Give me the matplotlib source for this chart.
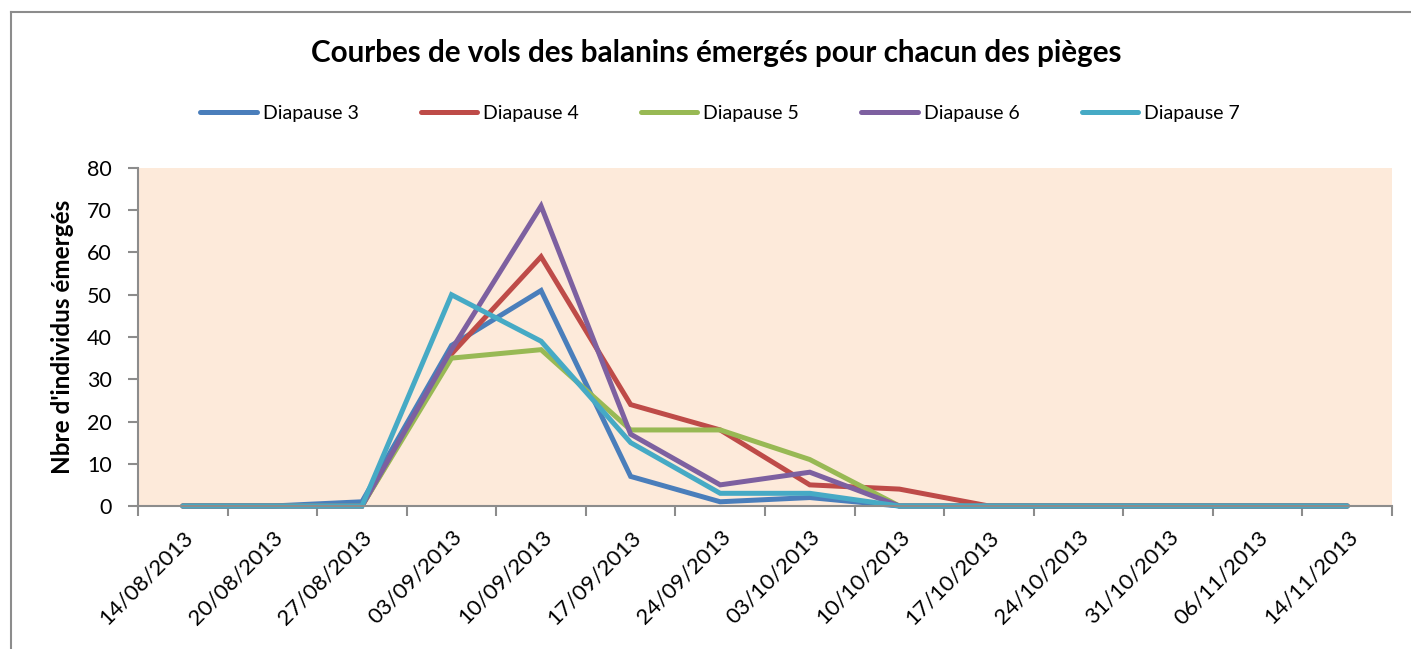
import matplotlib.pyplot as plt
from matplotlib.lines import Line2D
import numpy as np

plt.rcParams['font.family'] = ['Lato', 'DejaVu Sans']

dates = ['14/08/2013', '20/08/2013', '27/08/2013', '03/09/2013', '10/09/2013',
         '17/09/2013', '24/09/2013', '03/10/2013', '10/10/2013', '17/10/2013',
         '24/10/2013', '31/10/2013', '06/11/2013', '14/11/2013']
diapause_3 = [0, 0, 1, 38, 51, 7, 1, 2, 0, 0, 0, 0, 0, 0]
diapause_4 = [0, 0, 0, 36, 59, 24, 18, 5, 4, 0, 0, 0, 0, 0]
diapause_5 = [0, 0, 0, 35, 37, 18, 18, 11, 0, 0, 0, 0, 0, 0]
diapause_6 = [0, 0, 0, 37, 71, 17, 5, 8, 0, 0, 0, 0, 0, 0]
diapause_7 = [0, 0, 0, 50, 39, 15, 3, 3, 0, 0, 0, 0, 0, 0]

series = [('Diapause 3', diapause_3, '#4A7EBB'),
          ('Diapause 4', diapause_4, '#BE4B48'),
          ('Diapause 5', diapause_5, '#98B954'),
          ('Diapause 6', diapause_6, '#7D60A0'),
          ('Diapause 7', diapause_7, '#46AAC5')]

fig = plt.figure(figsize=(14.11, 6.49), dpi=100)
W, H = 1411, 649
ax = fig.add_axes([138 / W, 1 - 506 / H, (1392 - 138) / W, (506 - 168) / H])
ax.set_facecolor('#FDEADA')

# outer chart border (only left and top edges are visible in the picture)
border = '#8C8C8C'
fig.lines.append(Line2D([11.5 / W, 11.5 / W], [0, 1 - 11.5 / H], transform=fig.transFigure,
                        color=border, linewidth=1.5))
fig.lines.append(Line2D([11.5 / W, 1], [1 - 11.5 / H, 1 - 11.5 / H], transform=fig.transFigure,
                        color=border, linewidth=1.5))

x = np.arange(len(dates))
for name, vals, col in series:
    ax.plot(x, vals, color=col, linewidth=3.6, label=name,
            solid_capstyle='round', solid_joinstyle='miter', clip_on=False)

ax.set_xlim(-0.5, len(dates) - 0.5)
ax.set_ylim(0, 80)
ax.set_yticks(range(0, 81, 10))
ax.set_xticks(x)
ax.set_xticks(np.arange(-0.5, len(dates), 1), minor=True)
ax.set_xticklabels(dates, rotation=45, ha='right', va='top',
                   rotation_mode='anchor', fontsize=16)
ax.tick_params(axis='x', which='major', length=0, pad=15)
ax.tick_params(axis='x', which='minor', length=7, color=border, width=1.5)
ax.tick_params(axis='y', length=7, color=border, width=1.5, labelsize=15.5, pad=12)

for s in ['top', 'right']:
    ax.spines[s].set_visible(False)
for s in ['left', 'bottom']:
    ax.spines[s].set_color(border)
    ax.spines[s].set_linewidth(1.5)

ax.set_ylabel("Nbre d'individus émergés", fontsize=17.5, fontweight='bold', labelpad=9)

fig.text(716 / W, 1 - 53 / H, 'Courbes de vols des balanins émergés pour chacun des pièges',
         ha='center', va='center', fontsize=21.3, fontweight='bold')

fig.legend(loc='center', bbox_to_anchor=(720 / W, 1 - 113 / H), ncol=5,
           frameon=False, fontsize=14, handlelength=2.9, handletextpad=0.3,
           columnspacing=3.2)

fig.savefig('out.png', dpi=100)
